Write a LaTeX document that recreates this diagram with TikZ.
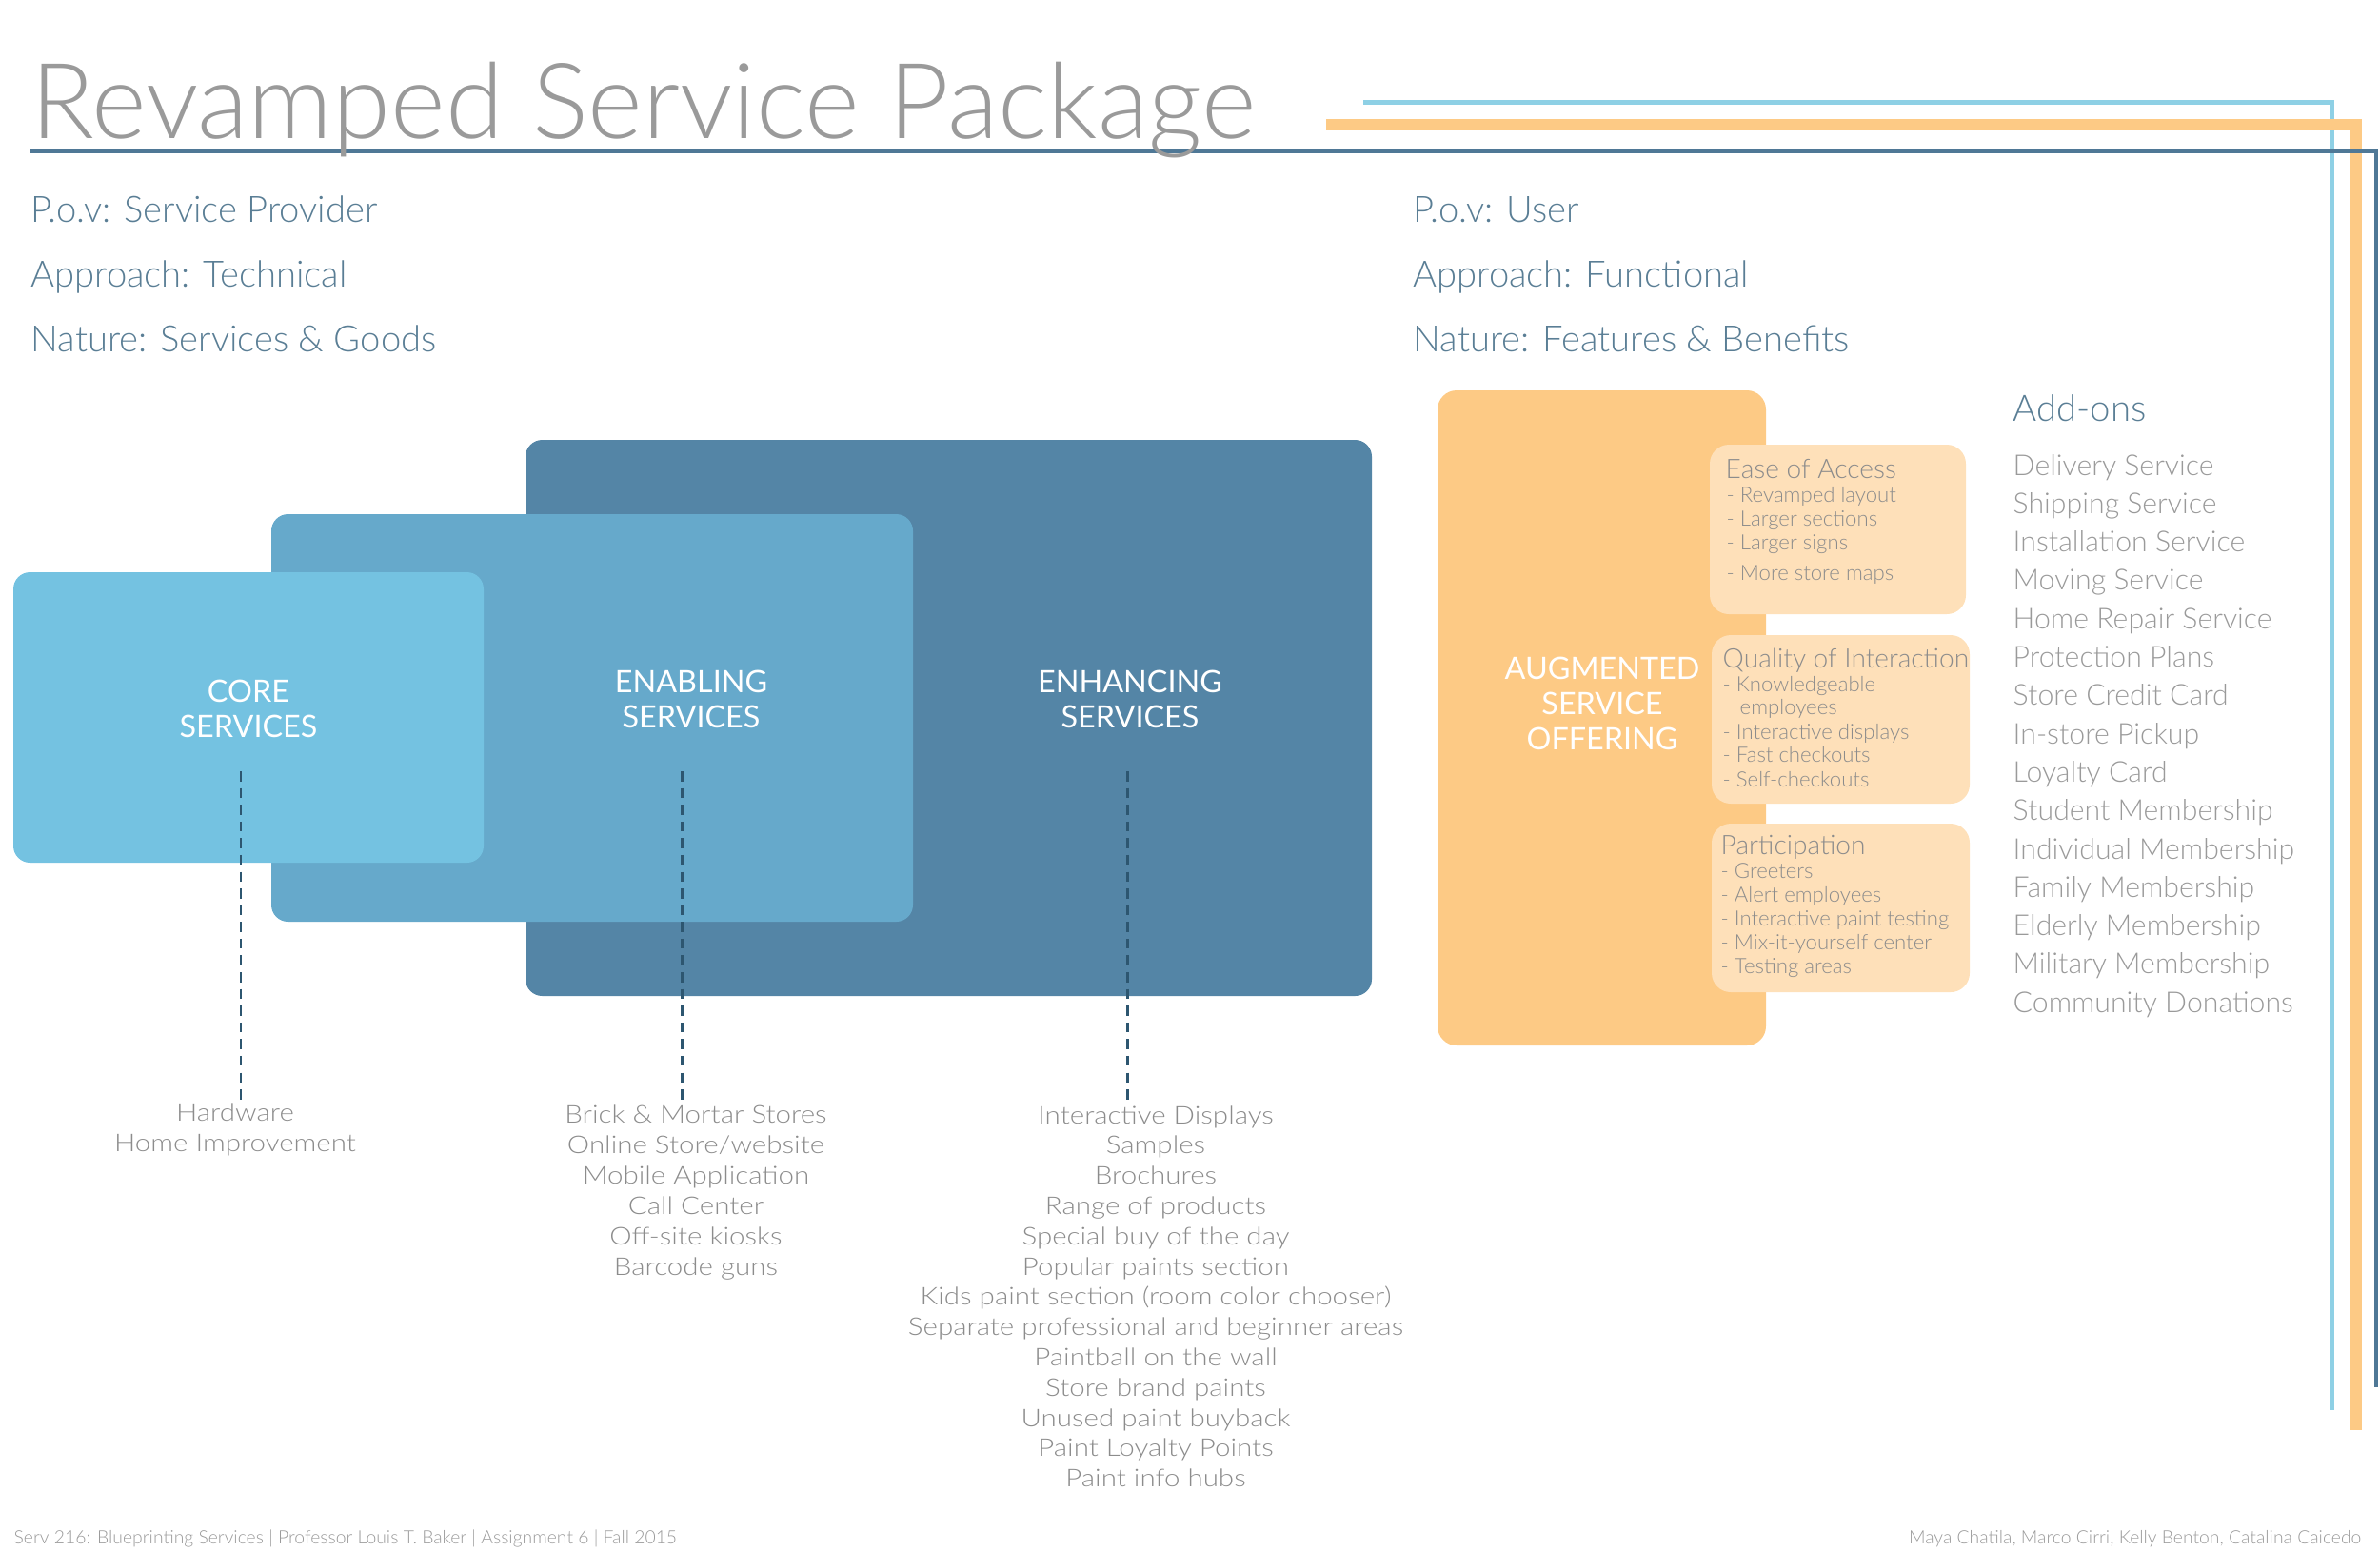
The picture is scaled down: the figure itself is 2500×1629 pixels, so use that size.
\documentclass[tikz,border=0pt]{standalone}
\usepackage{fontspec}
\IfFontExistsTF{Lato Light}{%
	\setmainfont{Lato Light}
	\newfontfamily\widefont{Lato Light}[FakeStretch=1.15]}{%
	\setmainfont{Lato}
	\newfontfamily\widefont{Lato}[FakeStretch=1.15]}
\newfontfamily\capsfont{Lato}
\usetikzlibrary{positioning}

\definecolor{titlegray}{HTML}{9A9A9A}
\definecolor{listgray}{HTML}{8C8C8C}
\definecolor{headblue}{HTML}{5A7E95}
\definecolor{lineblue}{HTML}{4F7896}
\definecolor{skyline}{HTML}{8ED0E5}
\definecolor{peach}{HTML}{FDCA85}
\definecolor{lightpeach}{HTML}{FEE0B9}
\definecolor{corecol}{HTML}{74C2E1}
\definecolor{enablecol}{HTML}{66A9CB}
\definecolor{enhancecol}{HTML}{5485A6}
\definecolor{dashcol}{HTML}{2D5670}

\tikzset{
	txt/.style={inner sep=0pt, anchor=base west},
	subhead/.style={txt, text=headblue, font=\fontsize{10.85}{13}\selectfont},
	boxlabel/.style={inner sep=0pt, align=center, text=white, font=\capsfont\fontsize{9.2}{10.5}\selectfont},
	listitem/.style={inner sep=0pt, anchor=base, text=listgray, font=\widefont\fontsize{7.3}{8}\selectfont},
	boxtitle/.style={txt, text=listgray, font=\fontsize{8}{9}\selectfont},
	boxitem/.style={txt, text=listgray, font=\fontsize{6.3}{7}\selectfont},
	addon/.style={txt, text=titlegray, font=\fontsize{8.6}{11}\selectfont},
	leader/.style={draw=dashcol, line width=0.85pt, dash pattern=on 3pt off 2pt}
}

\begin{document}
\begin{tikzpicture}[x=0.01cm,y=-0.01cm]
	\useasboundingbox (0,0) rectangle (2500,1629);
	% frame lines
	\draw[skyline, line width=1.42pt] (1432,107) -- (2449,107) -- (2449,1481);
	\draw[peach, line width=3.4pt] (1393,131) -- (2475,131) -- (2475,1502);
	\draw[lineblue, line width=1.14pt] (32,159) -- (2496,159) -- (2496,1457);
	\node[txt, text=titlegray, font=\fontsize{31.4}{38}\selectfont] (title) at (32,145) {Revamped Service Package};

	\node[subhead] (pov-l) at (32,233) {P.o.v: Service Provider};
	\node[subhead] (app-l) at (32,301) {Approach: Technical};
	\node[subhead] (nat-l) at (32,369) {Nature: Services \& Goods};
	\node[subhead] (pov-r) at (1484,233) {P.o.v: User};
	\node[subhead] (app-r) at (1484,301) {Approach: Functional};
	\node[subhead] (nat-r) at (1484,369) {Nature: Features \& Benefits};

	% service layers
	\fill[enhancecol, rounded corners=5pt] (552,462) rectangle (1441,1046);
	\fill[enablecol, rounded corners=5pt] (285,540) rectangle (959,968);
	\fill[corecol, rounded corners=5pt] (14,601) rectangle (508,906);
	\node[boxlabel] (core) at (261,744) {CORE\\SERVICES};
	\node[boxlabel] (enabling) at (726,734) {ENABLING\\SERVICES};
	\node[boxlabel] (enhancing) at (1187,734) {ENHANCING\\SERVICES};

	\node[listitem] (core-1) at (247,1177) {Hardware};
	\node[listitem] (core-2) at (247,1209) {Home Improvement};
	\foreach \t [count=\i from 0] in {Brick \& Mortar Stores, Online Store/website, Mobile Application, Call Center, Off-site kiosks, Barcode guns}
		\node[listitem] (enab-\i) at (731,1179+32*\i) {\t};
	\foreach \t [count=\i from 0] in {Interactive Displays, Samples, Brochures, Range of products, Special buy of the day, Popular paints section, Kids paint section (room color chooser), Separate professional and beginner areas, Paintball on the wall, Store brand paints, Unused paint buyback, Paint Loyalty Points, Paint info hubs}
		\node[listitem] (enh-\i) at (1214,1180+31.8*\i) {\t};

	\coordinate (core-top) at (253,810);
	\coordinate (enab-top) at (716,810);
	\coordinate (enh-top) at (1184,810);
	\draw[leader] (core-top) -- (core-top |- core-1.north);
	\draw[leader] (enab-top) -- (enab-top |- enab-0.north);
	\draw[leader] (enh-top) -- (enh-top |- enh-0.north);

	% augmented offering
	\fill[peach, rounded corners=5.7pt] (1510,410) rectangle (1855,1098);
	\fill[lightpeach, rounded corners=5.7pt] (1796,467) rectangle (2065,645);
	\fill[lightpeach, rounded corners=5.7pt] (1798,667) rectangle (2069,844);
	\fill[lightpeach, rounded corners=5.7pt] (1798,865) rectangle (2069,1042);
	\node[boxlabel] (augmented) at (1683,739) {AUGMENTED\\SERVICE\\OFFERING};

	\node[boxtitle] (ease) at (1812,502) {Ease of Access};
	\node[boxitem] (ease-1) at (1813,527) {- Revamped layout};
	\node[boxitem] (ease-2) at (1813,552) {- Larger sections};
	\node[boxitem] (ease-3) at (1813,577) {- Larger signs};
	\node[boxitem] (ease-4) at (1813,609) {- More store maps};

	\node[boxtitle] (quality) at (1809,701) {Quality of Interaction};
	\node[boxitem] (qual-1) at (1809,726) {- Knowledgeable};
	\node[boxitem] (qual-2) at (1827,750) {employees};
	\node[boxitem] (qual-3) at (1809,776) {- Interactive displays};
	\node[boxitem] (qual-4) at (1809,800) {- Fast checkouts};
	\node[boxitem] (qual-5) at (1809,826) {- Self-checkouts};

	\node[boxtitle] (partic) at (1807,897) {Participation};
	\foreach \t [count=\i] in {Greeters, Alert employees, Interactive paint testing, Mix-it-yourself center, Testing areas}
		\node[boxitem] (part-\i) at (1807,897+25*\i) {- \t};

	% add-ons
	\node[txt, text=headblue, font=\fontsize{10.9}{13}\selectfont] (addons) at (2114,442) {Add-ons};
	\foreach \t [count=\i from 0] in {Delivery Service, Shipping Service, Installation Service, Moving Service, Home Repair Service, Protection Plans, Store Credit Card, In-store Pickup, Loyalty Card, Student Membership, Individual Membership, Family Membership, Elderly Membership, Military Membership, Community Donations}
		\node[addon] (addon-\i) at (2114,499+40.3*\i) {\t};

	% footer
	\node[txt, text=titlegray, font=\fontsize{5.5}{7}\selectfont] (course) at (14,1621) {Serv 216: Blueprinting Services | Professor Louis T. Baker | Assignment 6 | Fall 2015};
	\node[inner sep=0pt, anchor=base east, text=titlegray, font=\fontsize{5.5}{7}\selectfont] (team) at (2481,1621) {Maya Chatila, Marco Cirri, Kelly Benton, Catalina Caicedo};
\end{tikzpicture}
\end{document}
